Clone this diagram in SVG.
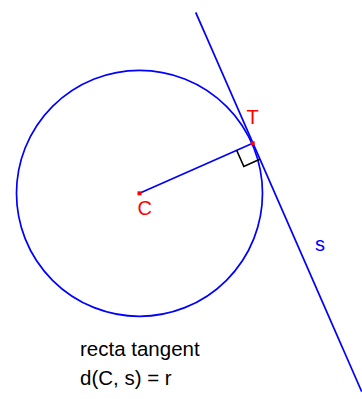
<svg xmlns="http://www.w3.org/2000/svg" width="362" height="399" viewBox="0 0 362 399">
<style>
.geo{fill:none;stroke:#0000ff;stroke-width:1.7}
.lbl{font-family:"Liberation Sans",Arial,sans-serif;font-size:20px}
.cap{font-size:20.5px}
.red{fill:#ff0000}
.blue{fill:#0000ff}
.blk{fill:#000000}
</style>
<rect width="362" height="399" fill="#ffffff"/>
<g id="circle">
<circle class="geo" cx="139.5" cy="193.3" r="123"/>
</g>
<g id="connectors">
<line id="tangent-s" class="geo" x1="195.7" y1="12.3" x2="361.7" y2="391.7"/>
<line id="radius" class="geo" x1="139.5" y1="193.3" x2="252.7" y2="143.3"/>
<polyline id="right-angle" points="236.7,150.4 243.8,166.4 259.8,159.3" fill="none" stroke="#000000" stroke-width="1.5"/>
</g>
<g id="point-C">
<rect class="red" x="137.5" y="191.3" width="4" height="4"/>
<text class="lbl red" x="137.5" y="214.5">C</text>
</g>
<g id="point-T">
<rect class="red" x="250.7" y="141.3" width="4" height="4"/>
<text class="lbl red" x="246.5" y="124">T</text>
</g>
<g id="label-s">
<text class="lbl blue" x="315" y="250.5">s</text>
</g>
<g id="caption">
<text class="lbl cap blk" x="80" y="356">recta tangent</text>
<text class="lbl cap blk" x="80" y="385">d(C, s) = r</text>
</g>
</svg>
